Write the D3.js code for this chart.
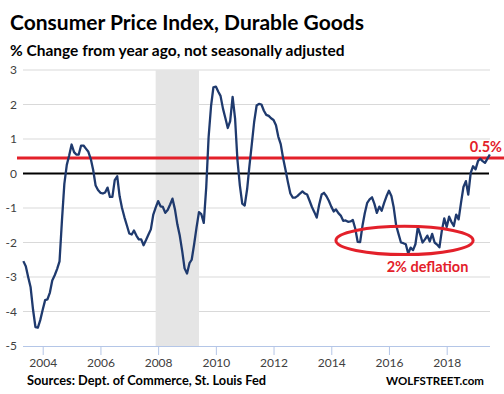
<!DOCTYPE html>
<html>
<head>
<meta charset="utf-8">
<script src="https://cdn.jsdelivr.net/npm/d3@7"></script>
<style>
  body { margin: 0; background: #fff; }
  svg { display: block; font-family: Lato, "Open Sans", sans-serif; }
</style>
</head>
<body>
<svg id="chart" width="504" height="394"></svg>
<script>
// CPI durable goods, % change from year ago, monthly from May 2003
var firstMonth = new Date(2003, 4, 1)
var cpiValues = [
  -2.54, -2.69, -3.0, -3.3, -3.95, -4.45, -4.47, -4.25, -3.95, -3.67, -3.65, -3.45,
  -3.1, -2.95, -2.77, -2.55, -1.35, -0.3, 0.25, 0.52, 0.84, 0.62, 0.55, 0.55,
  0.81, 0.81, 0.72, 0.63, 0.42, 0.1, -0.35, -0.48, -0.56, -0.58, -0.55, -0.41,
  -0.68, -0.68, -0.19, -0.08, -0.66, -1.0, -1.27, -1.5, -1.74, -1.77, -1.65, -1.8,
  -1.91, -1.91, -2.08, -1.93, -1.77, -1.62, -1.19, -0.99, -0.8, -0.95, -0.97, -1.14,
  -1.06, -0.9, -0.73, -1.04, -1.48, -1.8, -2.25, -2.75, -2.9, -2.6, -2.5, -2.05,
  -1.57, -1.12, -1.18, -1.43, -0.4, 1.05, 1.95, 2.5, 2.52, 2.37, 2.25, 1.88,
  1.61, 1.32, 1.52, 2.22, 1.6, 0.4, -0.35, -0.87, -0.93, -0.45, 0.2, 0.85,
  1.5, 1.97, 2.02, 2.0, 1.82, 1.7, 1.67, 1.6, 1.55, 1.4, 1.07, 0.85,
  0.45, 0.1, -0.25, -0.58, -0.7, -0.7, -0.65, -0.58, -0.52, -0.58, -0.61, -0.79,
  -0.97, -1.12, -1.28, -0.9, -0.61, -0.56, -0.66, -0.79, -0.96, -1.1, -1.04, -1.15,
  -1.22, -1.37, -1.36, -1.4, -1.39, -1.35, -1.6, -1.98, -1.99, -1.5, -1.15, -0.85,
  -0.75, -0.69, -0.88, -1.14, -0.96, -1.08, -0.85, -0.66, -0.5, -0.65, -0.98, -1.5,
  -1.75, -2.0, -2.02, -2.05, -2.32, -2.15, -2.22, -2.05, -1.55, -1.78, -2.0, -1.91,
  -1.8, -1.97, -1.75, -2.0, -2.06, -2.14, -1.65, -1.3, -1.55, -1.25, -1.4, -1.52,
  -1.19, -1.33, -0.85, -0.39, -0.22, -0.61, 0.02, 0.21, 0.12, 0.36, 0.43, 0.36,
  0.31, 0.43, 0.55
]
var yTicks = [3, 2, 1, 0, -1, -2, -3, -4, -5]
var xTickYears = [2004, 2006, 2008, 2010, 2012, 2014, 2016, 2018]
var recession = [new Date(2007, 11, 1), new Date(2009, 5, 1)]
var latestValue = 0.45
var deflationBox = { from: new Date(2014, 2, 1), to: new Date(2018, 11, 1), top: -1.53, bottom: -2.35 }

var data = cpiValues.map(function(v, i) {
  return { date: new Date(firstMonth.getFullYear(), firstMonth.getMonth() + i, 1), value: v }
})

var plotLeft = 23, plotRight = 490, plotTop = 70, plotBottom = 346
var red = '#e3202a'

var x = d3.scaleTime()
    .domain([new Date(2004, 0, 1), new Date(2018, 0, 1)])
    .range([42.7, 446.7])
var y = d3.scaleLinear().domain([-5, 3]).range([plotBottom, plotTop])

var svg = d3.select('#chart')

// titles
svg.append('text').attr('x', 10).attr('y', 30)
    .attr('font-size', '21px').attr('font-weight', 'bold').attr('fill', '#000')
    .text('Consumer Price Index, Durable Goods')
svg.append('text').attr('x', 10).attr('y', 55.5)
    .attr('font-size', '15.5px').attr('font-weight', 'bold').attr('fill', '#000')
    .text('% Change from year ago, not seasonally adjusted')

// grid
svg.append('g').selectAll('line')
    .data(yTicks.filter(function(d) { return d !== -5 && d !== 0 }))
    .enter().append('line')
    .attr('x1', plotLeft).attr('x2', plotRight)
    .attr('y1', function(d) { return y(d) }).attr('y2', function(d) { return y(d) })
    .attr('stroke', '#d9d9d9').attr('stroke-width', 1)

// recession band
svg.append('rect')
    .attr('x', x(recession[0])).attr('width', x(recession[1]) - x(recession[0]))
    .attr('y', plotTop).attr('height', plotBottom - plotTop)
    .attr('fill', '#e5e5e5')

// y labels
svg.append('g').selectAll('text')
    .data(yTicks)
    .enter().append('text')
    .attr('x', 17).attr('y', function(d) { return y(d) + 4 })
    .attr('text-anchor', 'end').attr('font-size', '12px').attr('fill', '#404040')
    .text(function(d) { return d })

// x axis
var xAxis = d3.axisBottom(x)
    .tickValues(xTickYears.map(function(yr) { return new Date(yr, 0, 1) }))
    .tickFormat(d3.timeFormat('%Y'))
    .tickSize(9).tickSizeOuter(0)
var gx = svg.append('g').attr('transform', 'translate(0,' + plotBottom + ')').call(xAxis)
gx.select('.domain').attr('d', 'M' + plotLeft + ',0.5H' + plotRight).attr('stroke', '#b4c6e7')
gx.selectAll('.tick line').attr('stroke', '#b4c6e7')
gx.selectAll('.tick text').attr('font-family', 'Lato, "Open Sans", sans-serif')
    .attr('font-size', '12px').attr('fill', '#404040').attr('dy', 0).attr('y', 20.5)

// zero line
svg.append('line').attr('x1', plotLeft).attr('x2', plotRight - 1)
    .attr('y1', y(0)).attr('y2', y(0))
    .attr('stroke', '#000').attr('stroke-width', 2)

// latest value line
svg.append('line').attr('x1', 17).attr('x2', 504)
    .attr('y1', y(latestValue)).attr('y2', y(latestValue))
    .attr('stroke', red).attr('stroke-width', 3)

// data line
var line = d3.line()
    .x(function(d) { return x(d.date) })
    .y(function(d) { return y(d.value) })
svg.append('path').datum(data)
    .attr('d', line)
    .attr('fill', 'none').attr('stroke', '#1f3a6e').attr('stroke-width', 2.3)
    .attr('stroke-linejoin', 'round')

// deflation ellipse
var ex1 = x(deflationBox.from), ex2 = x(deflationBox.to)
var ey1 = y(deflationBox.top), ey2 = y(deflationBox.bottom)
svg.append('ellipse')
    .attr('cx', (ex1 + ex2) / 2).attr('cy', (ey1 + ey2) / 2)
    .attr('rx', (ex2 - ex1) / 2).attr('ry', (ey2 - ey1) / 2)
    .attr('fill', 'none').attr('stroke', red).attr('stroke-width', 3)

svg.append('text').attr('x', 427.5).attr('y', 271.5)
    .attr('text-anchor', 'middle').attr('font-size', '14.5px').attr('font-weight', 'bold')
    .attr('fill', red).text('2% deflation')
svg.append('text').attr('x', 502).attr('y', 151.5)
    .attr('text-anchor', 'end').attr('font-size', '14.5px').attr('font-weight', 'bold')
    .attr('fill', red).text('0.5%')

// footer
svg.append('text').attr('x', 27).attr('y', 385)
    .attr('font-size', '12.8px').attr('font-weight', 'bold').attr('fill', '#000')
    .text('Sources: Dept. of Commerce, St. Louis Fed')
svg.append('text').attr('x', 484).attr('y', 385)
    .attr('text-anchor', 'end')
    .attr('font-size', '11.5px').attr('font-weight', 'bold').attr('fill', '#000')
    .text('WOLFSTREET.com')
</script>
</body>
</html>
